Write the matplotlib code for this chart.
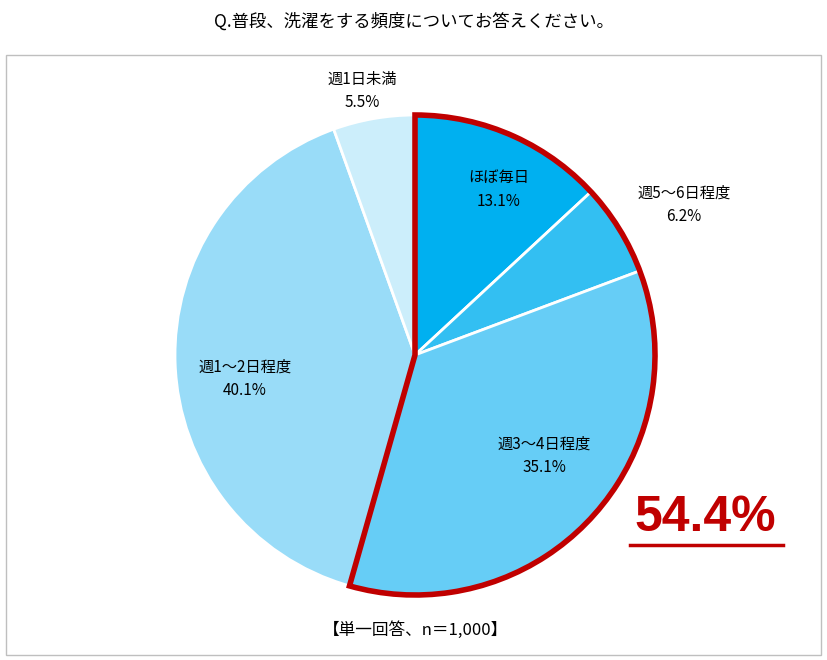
import matplotlib
matplotlib.use("Agg")
import matplotlib.pyplot as plt
from matplotlib.patches import Wedge, Rectangle
from matplotlib.lines import Line2D

plt.rcParams['font.family'] = ['Noto Sans CJK JP', 'DejaVu Sans']

categories = ["ほぼ毎日", "週5～6日程度", "週3～4日程度", "週1～2日程度", "週1日未満"]
values = [13.1, 6.2, 35.1, 40.1, 5.5]
colors = ["#00B0F0", "#33BFF2", "#66CDF6", "#99DCF8", "#CCEEFB"]
highlight_total = 54.4
title = "Q.普段、洗濯をする頻度についてお答えください。"
note = "【単一回答、n＝1,000】"

fig = plt.figure(figsize=(8.27, 6.6), dpi=100)
fig.patches.append(Rectangle((6/827, 5/660), 815/827, 600/660, transform=fig.transFigure,
                             fill=False, edgecolor="#BFBFBF", lw=1))
fig.text(0.5, 1 - 22/660, title, ha="center", va="center", fontsize=12.5)

ax = fig.add_axes([(415-240)/827, (305-240)/660, 480/827, 480/660])
ax.pie(values, colors=colors, startangle=90, counterclock=False, radius=1,
       wedgeprops=dict(edgecolor="white", linewidth=2))
ax.set_xlim(-1, 1); ax.set_ylim(-1, 1); ax.set_aspect("equal")
w = Wedge((0, 0), 1.0, 90 - highlight_total * 3.6, 90, fill=False,
          edgecolor="#C00000", lw=4, joinstyle="miter")
w.set_clip_on(False)
ax.add_patch(w)

pos = [(0.35, 0.69), (1.12, 0.625), (0.54, -0.42), (-0.71, -0.10), (-0.22, 1.10)]
for c, v, (x, y) in zip(categories, values, pos):
    ax.text(x, y, f"{c}\n{v}%", ha="center", va="center", fontsize=11, linespacing=1.5,
            clip_on=False)

fig.text(705/827, 1 - 518/660, f"{highlight_total}%", ha="center", va="center",
         fontsize=36, fontweight="bold", color="#C00000", family=["Liberation Sans", "DejaVu Sans"])
fig.add_artist(Line2D([630/827, 783/827], [1 - 545/660, 1 - 545/660], color="#C00000", lw=2.5))
fig.text(415/827, 1 - 630/660, note, ha="center", va="center", fontsize=12)

fig.savefig("out.png", dpi=100)
